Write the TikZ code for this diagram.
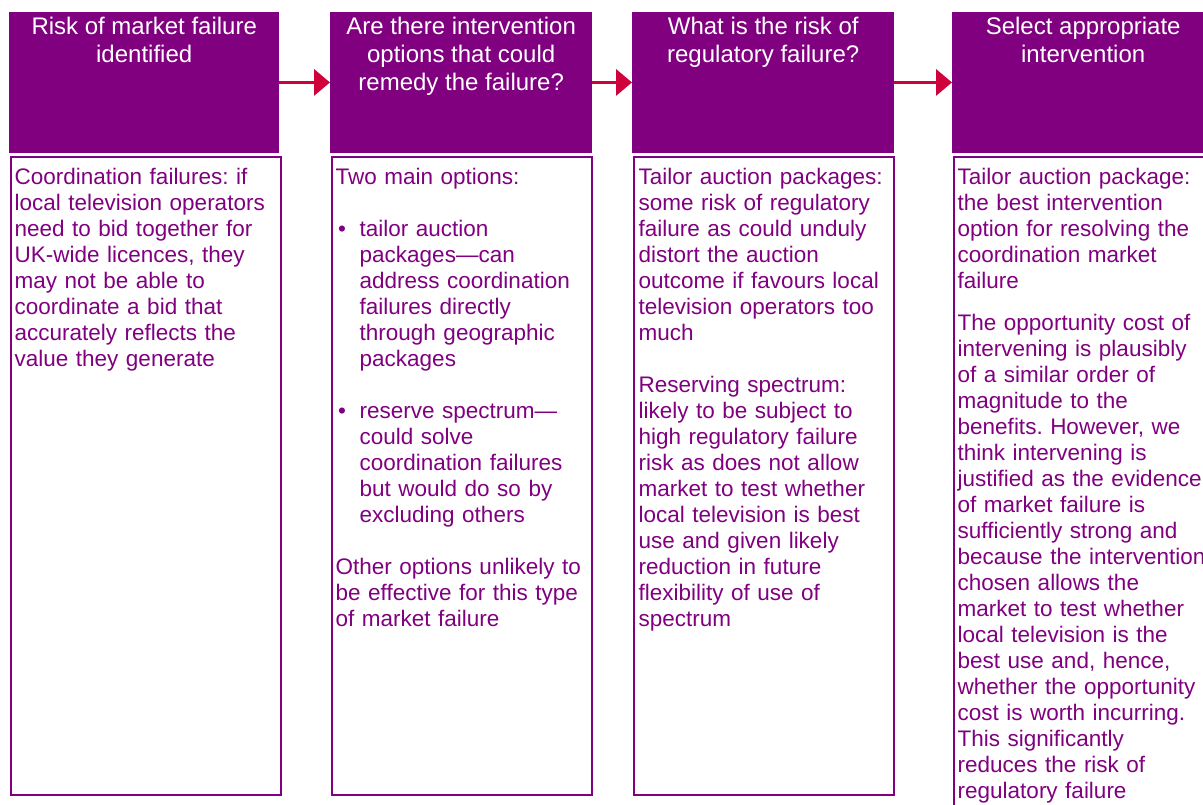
\documentclass[tikz,border=0pt]{standalone}
\usepackage{fontspec}
\setmainfont{Liberation Sans}
\usetikzlibrary{arrows.meta,positioning}
\definecolor{optpurple}{HTML}{800080}
\definecolor{optred}{HTML}{D0003A}
\newcommand{\itembul}{\makebox[24pt][l]{\hspace{2.5pt}\textbullet}}
\newcommand{\itemind}{\hspace*{24pt}}
\frenchspacing
\tikzset{
  header/.style={fill=optpurple,minimum width=#1,minimum height=140.5pt,anchor=north west,inner sep=0pt},
  header/.default=262pt,
  headtext/.style={text=white,align=center,anchor=north,inner sep=0pt,font=\fontsize{24}{28}\selectfont},
  bodybox/.style={draw=optpurple,line width=2pt,minimum width=#1,minimum height=638pt,anchor=north west,inner sep=0pt},
  bodybox/.default=260pt,
  bodytext/.style={text=optpurple,align=left,anchor=north west,inner sep=0pt,text width=300pt,font=\fontsize{22.5}{26}\selectfont},
  flow/.style={-{Triangle[length=16pt,width=26pt]},line width=3.5pt,draw=optred}
}
\begin{document}
\begin{tikzpicture}[x=1pt,y=-1pt]
  \useasboundingbox (0,0) rectangle (1203,805);
  \clip (0,0) rectangle (1203,805);

  % step headers
  \node (head1) [header=270pt] at (9,12) {};
  \node (head2) [header] at (330,12) {};
  \node (head3) [header] at (632,12) {};
  \node (head4) [header] at (952,12) {};

  \node (title1) [headtext] at ([yshift=-5pt]head1.north) {Risk of market failure\\identified};
  \node (title2) [headtext] at ([yshift=-5pt]head2.north) {Are there intervention\\options that could\\remedy the failure?};
  \node (title3) [headtext] at ([yshift=-5pt]head3.north) {What is the risk of\\regulatory failure?};
  \node (title4) [headtext] at ([yshift=-5pt]head4.north) {Select appropriate\\intervention};

  \draw[flow] (head1) -- (head2);
  \draw[flow] (head2) -- (head3);
  \draw[flow] (head3) -- (head4);

  % text boxes below each step
  \node (box1) [bodybox=270.5pt] at (9.5,156) {};
  \node (box2) [bodybox] at (330.5,156) {};
  \node (box3) [bodybox] at (633,156) {};
  \node (box4) [bodybox,minimum height=700pt] at (953,156.5) {};

  \node (text1) [bodytext] at (14.5,167.5) {Coordination failures: if\\local television operators\\need to bid together for\\UK-wide licences, they\\may not be able to\\coordinate a bid that\\accurately reflects the\\value they generate};
  \node (text2) [bodytext] at (335.5,167.5) {Two main options:\\[26pt]
    \itembul tailor auction\\\itemind packages—can\\\itemind address coordination\\\itemind failures directly\\\itemind through geographic\\\itemind packages\\[26pt]
    \itembul reserve spectrum—\\\itemind could solve\\\itemind coordination failures\\\itemind but would do so by\\\itemind excluding others\\[26pt]
    Other options unlikely to\\be effective for this type\\of market failure};
  \node (text3) [bodytext] at (638.5,167.5) {Tailor auction packages:\\some risk of regulatory\\failure as could unduly\\distort the auction\\outcome if favours local\\television operators too\\much\\[26pt]
    Reserving spectrum:\\likely to be subject to\\high regulatory failure\\risk as does not allow\\market to test whether\\local television is best\\use and given likely\\reduction in future\\flexibility of use of\\spectrum};
  \node (text4) [bodytext] at (957.5,167.5) {Tailor auction package:\\the best intervention\\option for resolving the\\coordination market\\failure\\[16pt]
    The opportunity cost of\\intervening is plausibly\\of a similar order of\\magnitude to the\\benefits. However, we\\think intervening is\\justified as the evidence\\of market failure is\\sufficiently strong and\\because the intervention\\chosen allows the\\market to test whether\\local television is the\\best use and, hence,\\whether the opportunity\\cost is worth incurring.\\This significantly\\reduces the risk of\\regulatory failure};
\end{tikzpicture}
\end{document}
